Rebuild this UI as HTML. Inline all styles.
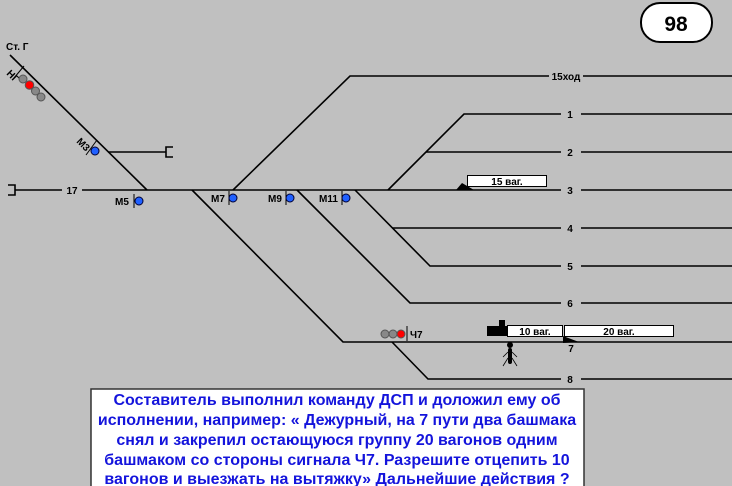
<!DOCTYPE html>
<html><head><meta charset="utf-8"><style>
html,body{margin:0;padding:0;background:#c0c0c0;}
svg{display:block;font-family:"Liberation Sans",sans-serif;}
.l{stroke:#000;stroke-width:1.6;fill:none}
.t{font-size:10px;font-weight:bold;fill:#000}
</style></head><body>
<svg width="732" height="486" viewBox="0 0 732 486">
<rect width="732" height="486" fill="#c0c0c0"/>
<!-- 98 -->
<rect x="641" y="3" width="71" height="39" rx="19" fill="#fff" stroke="#000" stroke-width="2"/>
<text x="676" y="31" font-size="21" font-weight="bold" text-anchor="middle">98</text>
<text x="6" y="50" class="t">Ст. Г</text>
<!-- NG diagonal -->
<line class="l" x1="10" y1="55" x2="147" y2="190"/>
<line x1="14" y1="78" x2="24" y2="66" stroke="#000" stroke-width="1"/>
<text class="t" transform="translate(6,74) rotate(45)">НГ</text>
<circle cx="23" cy="79" r="4" fill="#888" stroke="#555"/>
<circle cx="29.5" cy="85" r="4.3" fill="#f00" stroke="#555"/>
<circle cx="35.5" cy="91" r="4" fill="#888" stroke="#555"/>
<circle cx="41" cy="97" r="4" fill="#888" stroke="#555"/>
<line x1="86" y1="155" x2="97" y2="140" stroke="#000" stroke-width="1"/>
<text class="t" transform="translate(76,142) rotate(45)">М3</text>
<circle cx="95" cy="151" r="4" fill="#2060ff" stroke="#003"/>
<line class="l" x1="108" y1="152" x2="166" y2="152"/>
<path class="l" d="M173 147 H166 V157 H173"/>
<!-- main line -->
<path class="l" d="M8 185 H15 V195 H8"/>
<line class="l" x1="15" y1="190" x2="62" y2="190"/>
<text x="72" y="194" class="t" text-anchor="middle">17</text>
<line class="l" x1="82" y1="190" x2="561" y2="190"/>
<line class="l" x1="581" y1="190" x2="732" y2="190"/>
<text x="570" y="194" class="t" text-anchor="middle">3</text>
<!-- 15ход -->
<path class="l" d="M233 190 L350 76 H732"/>
<rect x="549" y="70" width="34" height="11" fill="#c0c0c0"/>
<text x="566" y="80" class="t" text-anchor="middle">15ход</text>
<!-- 1,2 -->
<path class="l" d="M388 190 L464 114 H561"/>
<line class="l" x1="581" y1="114" x2="732" y2="114"/>
<text x="570" y="118" class="t" text-anchor="middle">1</text>
<line class="l" x1="426" y1="152" x2="561" y2="152"/>
<line class="l" x1="581" y1="152" x2="732" y2="152"/>
<text x="570" y="156" class="t" text-anchor="middle">2</text>
<!-- 4,5 -->
<path class="l" d="M355 190 L430 266 H561"/>
<line class="l" x1="581" y1="266" x2="732" y2="266"/>
<text x="570" y="270" class="t" text-anchor="middle">5</text>
<line class="l" x1="392" y1="228" x2="561" y2="228"/>
<line class="l" x1="581" y1="228" x2="732" y2="228"/>
<text x="570" y="232" class="t" text-anchor="middle">4</text>
<!-- 6 -->
<path class="l" d="M297 190 L410 303 H561"/>
<line class="l" x1="581" y1="303" x2="732" y2="303"/>
<text x="570" y="307" class="t" text-anchor="middle">6</text>
<!-- 7 -->
<path class="l" d="M192 190 L343 342 H732"/>
<text x="571" y="352" class="t" text-anchor="middle">7</text>
<!-- 8 -->
<path class="l" d="M392 342 L428 379 H561"/>
<line class="l" x1="581" y1="379" x2="732" y2="379"/>
<text x="570" y="383" class="t" text-anchor="middle">8</text>
<!-- signals -->
<text x="115" y="205" class="t">М5</text>
<line x1="134" y1="194" x2="134" y2="208" stroke="#000"/>
<circle cx="139" cy="201" r="4" fill="#2060ff" stroke="#003"/>
<text x="211" y="202" class="t">М7</text>
<line x1="229" y1="191" x2="229" y2="205" stroke="#000"/>
<circle cx="233" cy="198" r="4" fill="#2060ff" stroke="#003"/>
<text x="268" y="202" class="t">М9</text>
<line x1="286" y1="191" x2="286" y2="205" stroke="#000"/>
<circle cx="290" cy="198" r="4" fill="#2060ff" stroke="#003"/>
<text x="319" y="202" class="t">М11</text>
<line x1="342" y1="191" x2="342" y2="205" stroke="#000"/>
<circle cx="346" cy="198" r="4" fill="#2060ff" stroke="#003"/>
<!-- Ч7 -->
<circle cx="385" cy="334" r="4" fill="#888" stroke="#555"/>
<circle cx="393" cy="334" r="4" fill="#888" stroke="#555"/>
<circle cx="401" cy="334" r="4" fill="#f00" stroke="#555"/>
<line x1="407" y1="326" x2="407" y2="341" stroke="#000"/>
<text x="410" y="338" class="t">Ч7</text>
<!-- 15 ваг -->
<polygon points="456,190 462,183 474,190" fill="#000"/>
<rect x="467.5" y="175.5" width="79" height="11" fill="#fff" stroke="#000"/>
<text x="507" y="185" class="t" text-anchor="middle">15 ваг.</text>
<!-- loco and cars -->
<rect x="487" y="326" width="20" height="10" fill="#000"/>
<rect x="499" y="320" width="6" height="7" fill="#000"/>
<rect x="507.5" y="325.5" width="55" height="11" fill="#fff" stroke="#000"/>
<text x="535" y="335" class="t" text-anchor="middle">10 ваг.</text>
<rect x="564.5" y="325.5" width="109" height="11" fill="#fff" stroke="#000"/>
<text x="619" y="335" class="t" text-anchor="middle">20 ваг.</text>
<polygon points="563,336 563,343 579,342" fill="#000"/>
<!-- person -->
<circle cx="510" cy="345" r="3" fill="#000"/>
<rect x="508" y="348" width="4" height="16" rx="2" fill="#000"/>
<path d="M508 352 L503 357 M508 358 L503 366 M512 352 L517 357 M512 358 L517 366" stroke="#000" stroke-width="0.8" fill="none"/>
<!-- text box -->
<rect x="91" y="389" width="493" height="100" fill="#fff" stroke="#333" stroke-width="1.5"/>
<g font-size="16" font-weight="bold" fill="#1414dc" text-anchor="middle">
<text x="337" y="405">Составитель выполнил команду  ДСП и доложил ему об</text>
<text x="337" y="425">исполнении, например: « Дежурный, на 7 пути два башмака</text>
<text x="337" y="445">снял и закрепил остающуюся группу 20 вагонов одним</text>
<text x="337" y="465">башмаком со стороны сигнала Ч7. Разрешите отцепить 10</text>
<text x="337" y="484">вагонов и выезжать на вытяжку» Дальнейшие действия ?</text>
</g>
</svg>
</body></html>
